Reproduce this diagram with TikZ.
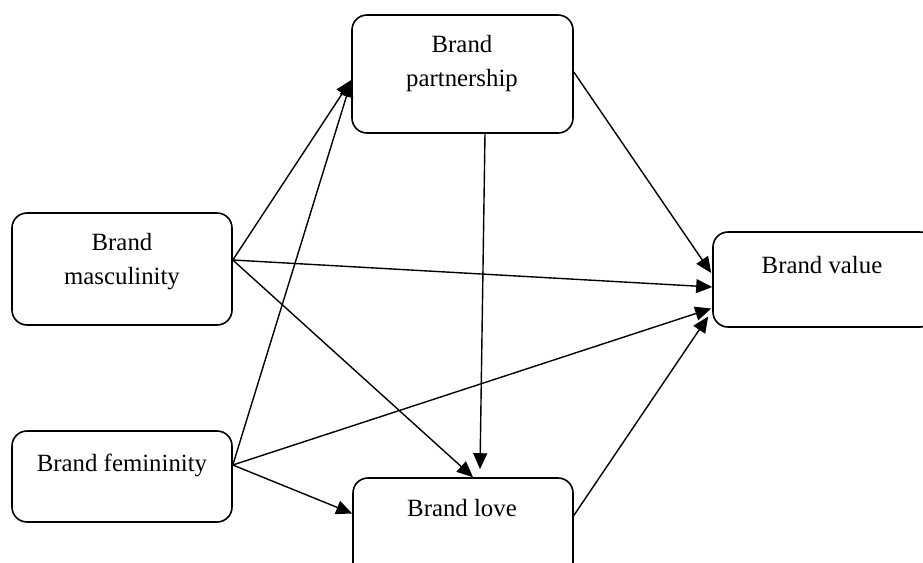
\documentclass[tikz,border=0pt]{standalone}
\usepackage{fontspec}
\setmainfont{Liberation Serif}
\usetikzlibrary{arrows.meta,calc}
\tikzset{
  box/.style={draw, line width=0.8pt, rounded corners=7.5pt, inner sep=0pt},
  lbl/.style={font=\fontsize{12.4pt}{17pt}\selectfont, align=center, inner sep=0pt},
  conn/.style={line width=0.7pt, -{Triangle[length=8pt,width=7pt]}}
}
\begin{document}
\begin{tikzpicture}[x=0.5pt,y=-0.5pt]
\clip (0,0) rectangle (923,563);
\fill[white] (0,0) rectangle (923,563);
% boxes
\node[box, minimum width=110pt, minimum height=56pt] (masc) at (122,269) {};
\node[box, minimum width=110pt, minimum height=45.5pt] (fem) at (122,476.5) {};
\node[box, minimum width=110.5pt, minimum height=59pt] (part) at (462.5,74) {};
\node[box, minimum width=111pt, minimum height=47.5pt] (value) at (824,279.5) {};
\node[box, minimum width=110pt, minimum height=58.5pt] (love) at (463,536.5) {};
% labels
\node[lbl] (mascT) at (122,262) {Brand\\masculinity};
\node[lbl] (femT) at (122,465) {Brand femininity};
\node[lbl] (partT) at (462,64) {Brand\\partnership};
\node[lbl] (valueT) at (822,265) {Brand value};
\node[lbl] (loveT) at (462,508) {Brand love};
% connectors
\draw[conn] ($(masc.east)+(0,-9)$) -- ($(part.west)+(0,6)$);
\draw[conn] ($(fem.east)+(0,-11.5)$) -- ($(part.west)+(0,7)$);
\draw[conn] ($(masc.east)+(0,-9)$) -- ($(value.west)+(0,7.5)$);
\draw[conn] ($(masc.east)+(0,-9)$) -- ($(love.north)+(10,0)$);
\draw[conn] ($(fem.east)+(0,-11.5)$) -- ($(value.west)+(-1,29)$);
\draw[conn] ($(fem.east)+(0,-11.5)$) -- ($(love.west)+(0,-23)$);
\draw[conn] ($(part.south)+(22.5,0)$) -- ($(love.north)+(17,-8)$);
\draw[conn] ($(part.east)+(0,-2)$) -- ($(value.west)+(-1,-6.5)$);
\draw[conn] ($(love.east)+(0,-21)$) -- ($(value.west)+(-4,37)$);
\end{tikzpicture}
\end{document}
